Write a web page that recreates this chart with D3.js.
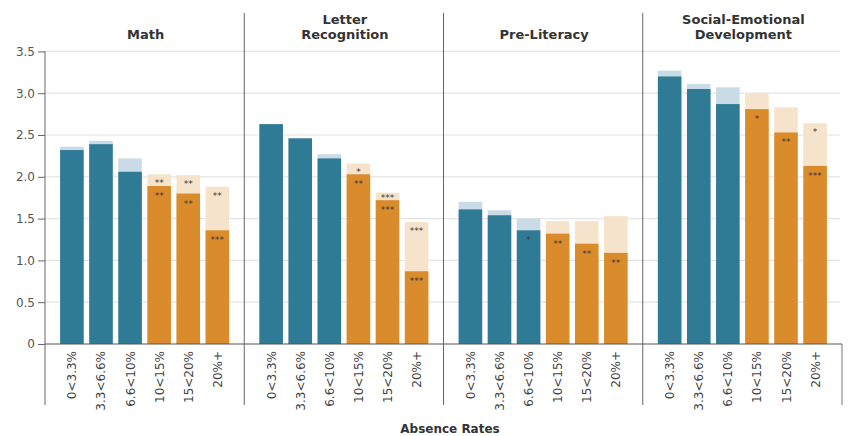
<!DOCTYPE html>
<html>
<head>
<meta charset="utf-8">
<script src="https://cdn.jsdelivr.net/npm/d3@7"></script>
<style>
  body { margin: 0; background: #fff; }
  text { font-family: "DejaVu Sans", sans-serif; }
</style>
</head>
<body>
<div id="chart"></div>
<script>
// absence rate bands
var categories = ["0<3.3%", "3.3<6.6%", "6.6<10%", "10<15%", "15<20%", "20%+"];
var domains = ["Math", "Letter Recognition", "Pre-Literacy", "Social-Emotional Development"];
var titleLines = [["Math"], ["Letter", "Recognition"], ["Pre-Literacy"], ["Social-Emotional", "Development"]];

// dark (front) bar values per domain
var mathDark = [2.32, 2.39, 2.06, 1.89, 1.80, 1.36];
var letterDark = [2.63, 2.46, 2.22, 2.03, 1.72, 0.87];
var preLitDark = [1.61, 1.54, 1.36, 1.32, 1.20, 1.09];
var socialDark = [3.20, 3.05, 2.87, 2.81, 2.53, 2.13];

// light (back) bar values per domain
var mathLight = [2.36, 2.43, 2.22, 2.03, 2.02, 1.88];
var letterLight = [2.63, 2.46, 2.27, 2.16, 1.81, 1.46];
var preLitLight = [1.70, 1.60, 1.50, 1.47, 1.47, 1.53];
var socialLight = [3.27, 3.11, 3.07, 3.00, 2.83, 2.64];

// significance markers
var mathDarkStars = ["", "", "", "**", "**", "***"];
var letterDarkStars = ["", "", "", "**", "***", "***"];
var preLitDarkStars = ["", "", "*", "**", "**", "**"];
var socialDarkStars = ["", "", "", "*", "**", "***"];
var mathLightStars = ["", "", "", "**", "**", "**"];
var letterLightStars = ["", "", "", "*", "***", "***"];
var preLitLightStars = ["", "", "", "", "", ""];
var socialLightStars = ["", "", "", "", "", "*"];

var yTicks = [0, 0.5, 1.0, 1.5, 2.0, 2.5, 3.0, 3.5];

var darkVals = [mathDark, letterDark, preLitDark, socialDark];
var lightVals = [mathLight, letterLight, preLitLight, socialLight];
var darkStars = [mathDarkStars, letterDarkStars, preLitDarkStars, socialDarkStars];
var lightStars = [mathLightStars, letterLightStars, preLitLightStars, socialLightStars];

var width = 848, height = 436;
var left = 45, right = 842, top0 = 13, plotBottom = 344, boxBottom = 405;

var teal = "#2f7b95", tealLight = "#c9dbe6", orange = "#da8b2c", orangeLight = "#f6e3cb";

var svg = d3.select("#chart").append("svg")
    .attr("width", width)
    .attr("height", height);

var y = d3.scaleLinear().domain([0, 3.5]).range([plotBottom, 51.4]);
var panel = d3.scaleBand().domain(domains).range([left, right]);
var x = d3.scaleBand().domain(categories).range([0, panel.bandwidth()])
    .paddingInner(0.19).paddingOuter(0.52);

// gridlines
svg.append("g").selectAll("line")
    .data(yTicks.slice(1))
    .enter().append("line")
    .attr("x1", left).attr("x2", right - 2)
    .attr("y1", function(d) { return y(d); })
    .attr("y2", function(d) { return y(d); })
    .attr("stroke", "#e4e4e4")
    .attr("stroke-width", 1.2);

// panels
domains.forEach(function(dom, i) {
  var g = svg.append("g").attr("transform", "translate(" + panel(dom) + ",0)");

  g.selectAll(".light")
      .data(lightVals[i])
      .enter().append("rect")
      .attr("x", function(d, j) { return x(categories[j]); })
      .attr("width", x.bandwidth())
      .attr("y", function(d) { return y(d); })
      .attr("height", function(d) { return plotBottom - y(d); })
      .attr("fill", function(d, j) { return j < 3 ? tealLight : orangeLight; });

  g.selectAll(".dark")
      .data(darkVals[i])
      .enter().append("rect")
      .attr("x", function(d, j) { return x(categories[j]); })
      .attr("width", x.bandwidth())
      .attr("y", function(d) { return y(d); })
      .attr("height", function(d) { return plotBottom - y(d); })
      .attr("fill", function(d, j) { return j < 3 ? teal : orange; });

  g.selectAll(".lstar")
      .data(lightStars[i])
      .enter().append("text")
      .attr("x", function(d, j) { return x(categories[j]) + x.bandwidth() / 2; })
      .attr("y", function(d, j) {
        return Math.min(y(lightVals[i][j]) + 12, y(darkVals[i][j]) + 1);
      })
      .attr("text-anchor", "middle")
      .attr("font-size", "9px")
      .attr("fill", "#3a3a3a")
      .text(function(d) { return d; });

  g.selectAll(".dstar")
      .data(darkStars[i])
      .enter().append("text")
      .attr("x", function(d, j) { return x(categories[j]) + x.bandwidth() / 2; })
      .attr("y", function(d, j) { return y(darkVals[i][j]) + 13; })
      .attr("text-anchor", "middle")
      .attr("font-size", "9px")
      .attr("fill", "#3a3a3a")
      .text(function(d) { return d; });

  // rotated category labels
  g.selectAll(".xl")
      .data(categories)
      .enter().append("text")
      .attr("transform", function(d) {
        return "translate(" + (x(d) + x.bandwidth() / 2 + 4.5) + "," + (plotBottom + 7) + ") rotate(-90)";
      })
      .attr("text-anchor", "end")
      .attr("font-size", "12px")
      .attr("fill", "#444")
      .text(function(d) { return d; });

  // panel title
  var lines = titleLines[i];
  var t = g.append("text")
      .attr("x", panel.bandwidth() / 2 + 1)
      .attr("text-anchor", "middle")
      .attr("font-size", "13px")
      .attr("font-weight", "bold")
      .attr("fill", "#333");
  lines.forEach(function(l, k) {
    t.append("tspan")
      .attr("x", panel.bandwidth() / 2 + 1)
      .attr("y", 39 - (lines.length - 1 - k) * 15)
      .text(l);
  });
});

// y axis
var yAxis = svg.append("g")
    .attr("transform", "translate(" + left + ",0)")
    .call(d3.axisLeft(y).tickValues(yTicks).tickSize(7).tickPadding(3)
      .tickFormat(function(d) { return d === 0 ? "0" : d3.format(".1f")(d); }));
yAxis.select(".domain").remove();
yAxis.selectAll(".tick line").attr("stroke", "#666");
yAxis.selectAll("text").attr("font-size", "12px").attr("fill", "#555")
    .style("font-family", "DejaVu Sans, sans-serif");

// axis frame and dividers
svg.append("line")
    .attr("x1", left).attr("x2", left)
    .attr("y1", y(3.5)).attr("y2", boxBottom)
    .attr("stroke", "#666");
svg.append("line")
    .attr("x1", left).attr("x2", right)
    .attr("y1", plotBottom).attr("y2", plotBottom)
    .attr("stroke", "#555");
svg.append("line")
    .attr("x1", right).attr("x2", right)
    .attr("y1", plotBottom).attr("y2", boxBottom)
    .attr("stroke", "#777");
svg.append("g").selectAll("line")
    .data(domains.slice(1))
    .enter().append("line")
    .attr("x1", function(d) { return panel(d); })
    .attr("x2", function(d) { return panel(d); })
    .attr("y1", top0).attr("y2", boxBottom)
    .attr("stroke", "#666");

svg.append("text")
    .attr("x", 450)
    .attr("y", 433)
    .attr("text-anchor", "middle")
    .attr("font-size", "12px")
    .attr("font-weight", "bold")
    .attr("fill", "#333")
    .text("Absence Rates");
</script>
</body>
</html>
